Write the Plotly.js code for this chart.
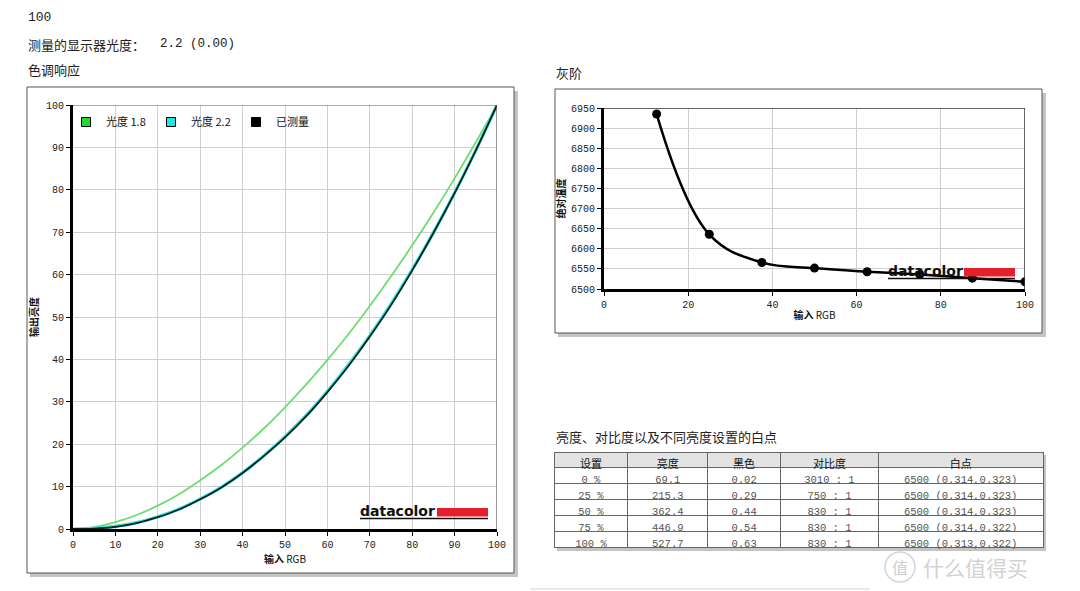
<!DOCTYPE html>
<html>
<head>
<meta charset="utf-8">
<script src="https://cdn.plot.ly/plotly-3.0.1.min.js"></script>
<style>html,body{margin:0;padding:0;background:#fff;}#chart{width:1080px;height:591px;}</style>
</head>
<body>
<div id="chart"></div>
<script>
// ---- data: tone response (色调响应) ----
const toneX = [0,5,10,15,20,25,30,35,40,45,50,55,60,65,70,75,80,85,90,95,100];
const gamma18 = [0,0.45,1.6,3.3,5.5,8.2,11.5,15.1,19.2,23.7,28.7,34.1,39.9,46.0,52.6,59.6,66.9,74.6,82.7,91.2,100];
const gamma22 = [0,0.14,0.6,1.5,2.9,4.7,7.1,9.9,13.3,17.3,21.8,26.8,32.5,38.8,45.6,53.1,61.2,69.9,79.3,89.3,100];
const measured = [0,0.1,0.5,1.4,2.8,4.6,7.0,9.8,13.2,17.2,21.6,26.6,32.3,38.5,45.4,52.8,61.0,69.8,79.2,89.3,100];
const seriesNames = ['光度 1.8','光度 2.2','已测量'];

// ---- data: grey scale (灰阶) ----
const greyX = [12.5,25,37.5,50,62.5,75,87.5,100];
const greyCCT = [6935,6636,6566,6552,6543,6536,6527,6518];

// ---- tick labels ----
const toneTicks = [0,10,20,30,40,50,60,70,80,90,100];
const greyXTicks = [0,20,40,60,80,100];
const greyYTicks = [6500,6550,6600,6650,6700,6750,6800,6850,6900,6950];

// ---- data: table ----
const tableHeader = ['设置','亮度','黑色','对比度','白点'];
const colSetting = ['0 %','25 %','50 %','75 %','100 %'];
const colLuminance = ['69.1','215.3','362.4','446.9','527.7'];
const colBlack = ['0.02','0.29','0.44','0.54','0.63'];
const colContrast = ['3010 : 1','750 : 1','830 : 1','830 : 1','830 : 1'];
const colWhitePoint = ['6500 (0.314,0.323)','6500 (0.314,0.323)','6500 (0.314,0.323)','6500 (0.314,0.322)','6500 (0.313,0.322)'];

// ---- texts ----
const headNumber = '100';
const gammaLabel = '测量的显示器光度：';
const gammaValue = '2.2 (0.00)';
const toneTitle = '色调响应';
const greyTitle = '灰阶';
const tableTitle = '亮度、对比度以及不同亮度设置的白点';

// ---- helpers (pixel -> paper) ----
const W = 1080, H = 591;
const px = v => v / W;
const py = v => 1 - v / H;

const CJK = '"Noto Sans CJK SC", "Noto Sans", sans-serif';
const MONO = '"Liberation Mono", "DejaVu Sans Mono", monospace';
const legendColors = ['#22dd22','#22e6e6','#000000'];

const traces = [
  {x: toneX, y: gamma18, type:'scatter', mode:'lines', line:{color:'#6fdc6f', width:1.8, shape:'spline'}, showlegend:false, xaxis:'x', yaxis:'y', hoverinfo:'skip'},
  {x: toneX, y: gamma22, type:'scatter', mode:'lines', line:{color:'#33e3e3', width:3.2, shape:'spline'}, showlegend:false, xaxis:'x', yaxis:'y', hoverinfo:'skip'},
  {x: toneX, y: measured, type:'scatter', mode:'lines', line:{color:'#0a1f1c', width:1.8, shape:'spline'}, showlegend:false, xaxis:'x', yaxis:'y', hoverinfo:'skip'},
  // legend entries (square swatches)
  ...seriesNames.map((n,i) => ({x:[null], y:[null], type:'scatter', mode:'markers', name:n,
     marker:{symbol:'square', size:9, color:legendColors[i], line:{color:'#000', width:1}}, xaxis:'x', yaxis:'y', showlegend:true})),
  // grey scale
  {x: greyX, y: greyCCT, type:'scatter', mode:'lines+markers', line:{color:'#000', width:2.5, shape:'spline', smoothing:1.1},
   marker:{color:'#000', size:9}, showlegend:false, xaxis:'x2', yaxis:'y2'},
  // table
  {type:'table', domain:{x:[px(554), px(1043)], y:[py(549), py(452)]},
   columnwidth:[74,80,73,98,165],
   header:{values: tableHeader, height:15, align:'center',
     fill:{color:'#e3e3e3'}, line:{color:'#666', width:1},
     font:{family:CJK, size:11, color:'#111'}},
   cells:{values:[colSetting, colLuminance, colBlack, colContrast, colWhitePoint], height:16, align:'center',
     fill:{color:'#ffffff'}, line:{color:'#666', width:1},
     font:{family:MONO, size:10.5, color:'#555'}}}
];

const tickFont = {family: MONO, size:10, color:'#222'};
const axisCommon = {showgrid:true, gridcolor:'#cfcfcf', gridwidth:1, showline:true, linecolor:'#000', linewidth:3,
  ticks:'outside', ticklen:4, tickwidth:1, tickcolor:'#000', zeroline:false, tickfont:tickFont, fixedrange:true};

const shapes = [
  // left frame (shadow + box)
  {type:'rect', xref:'paper', yref:'paper', x0:px(30), x1:px(518), y0:py(577), y1:py(91), fillcolor:'#c4c4c4', line:{width:0}, layer:'below'},
  {type:'rect', xref:'paper', yref:'paper', x0:px(27), x1:px(514), y0:py(573), y1:py(87), fillcolor:'#fff', line:{color:'#555', width:1}, layer:'below'},
  // right frame
  {type:'rect', xref:'paper', yref:'paper', x0:px(558), x1:px(1046), y0:py(337), y1:py(93), fillcolor:'#c4c4c4', line:{width:0}, layer:'below'},
  {type:'rect', xref:'paper', yref:'paper', x0:px(555), x1:px(1042), y0:py(333), y1:py(89), fillcolor:'#fff', line:{color:'#555', width:1}, layer:'below'},
  // table shadow
  {type:'rect', xref:'paper', yref:'paper', x0:px(557), x1:px(1046), y0:py(551), y1:py(455), fillcolor:'#c4c4c4', line:{width:0}, layer:'below'},
  // thin top / right plot borders
  {type:'line', xref:'x', yref:'y', x0:0, x1:100, y0:100, y1:100, line:{color:'#555', width:1.2}},
  {type:'line', xref:'x', yref:'y', x0:100, x1:100, y0:0, y1:100, line:{color:'#555', width:1.2}},
  {type:'line', xref:'x2', yref:'y2', x0:0, x1:100, y0:6950, y1:6950, line:{color:'#333', width:1.5}},
  {type:'line', xref:'x2', yref:'y2', x0:100, x1:100, y0:6500, y1:6950, line:{color:'#333', width:1.5}},
  // datacolor logos
  {type:'rect', xref:'paper', yref:'paper', x0:px(437), x1:px(488), y0:py(516.5), y1:py(508), fillcolor:'#e3202b', line:{width:0}, layer:'above'},
  {type:'line', xref:'paper', yref:'paper', x0:px(360), x1:px(488), y0:py(518.5), y1:py(518.5), line:{color:'#111', width:1.5}, layer:'above'},
  {type:'rect', xref:'paper', yref:'paper', x0:px(964), x1:px(1015), y0:py(276.5), y1:py(268), fillcolor:'#e3202b', line:{width:0}, layer:'above'},
  {type:'line', xref:'paper', yref:'paper', x0:px(888), x1:px(1015), y0:py(278.5), y1:py(278.5), line:{color:'#111', width:1.5}, layer:'above'},
  // faint bottom line
  {type:'line', xref:'paper', yref:'paper', x0:px(530), x1:px(870), y0:py(589), y1:py(589), line:{color:'#e2e2e2', width:1.5}},
  // watermark circle
  {type:'circle', xref:'paper', yref:'paper', x0:px(885), x1:px(915), y0:py(582), y1:py(552), line:{color:'#d6d6d6', width:1.5}, fillcolor:'rgba(255,255,255,0)'}
];

const ann = (text, x, y, font, extra) => Object.assign({text, xref:'paper', yref:'paper', x:px(x), y:py(y),
  xanchor:'left', yanchor:'middle', showarrow:false, font}, extra || {});

const annotations = [
  ann(headNumber, 26, 18, {family:MONO, size:13, color:'#222'}),
  ann(gammaLabel, 26, 44, {family:CJK, size:13, color:'#222'}),
  ann(gammaValue, 158, 44, {family:MONO, size:12.5, color:'#222'}),
  ann(toneTitle, 26, 70, {family:CJK, size:13, color:'#222'}),
  ann(greyTitle, 554, 72, {family:CJK, size:13, color:'#222'}),
  ann(tableTitle, 554, 436, {family:CJK, size:13, color:'#222'}),
  ann('<b>datacolor</b>', 358, 511, {family:'"DejaVu Sans", sans-serif', size:14, color:'#111'}),
  ann('<b>datacolor</b>', 886, 271, {family:'"DejaVu Sans", sans-serif', size:14, color:'#111'}),
  ann('值', 890, 567, {family:CJK, size:16, color:'#cfcfcf'}),
  ann('什么值得买', 921, 567, {family:CJK, size:21, color:'#d2d2d2'})
];

const layout = {
  width: W, height: H,
  margin:{l:0, r:0, t:0, b:0},
  paper_bgcolor:'#fff', plot_bgcolor:'#fff',
  font:{family:CJK, color:'#222'},
  showlegend:true,
  legend:{orientation:'h', x:px(66), y:py(122), xanchor:'left', yanchor:'middle',
    bgcolor:'rgba(0,0,0,0)', font:{family:CJK, size:11, color:'#111'},
    entrywidth:40, entrywidthmode:'pixels', itemwidth:30, tracegroupgap:0},
  xaxis: Object.assign({}, axisCommon, {domain:[px(73), px(497)], range:[0,100], tickvals:toneTicks, anchor:'y',
    title:{text:'<b>输入</b> RGB', font:{family:CJK, size:10, color:'#111'}, standoff:2}}),
  yaxis: Object.assign({}, axisCommon, {domain:[py(529), py(105)], range:[0,100], tickvals:toneTicks, anchor:'x',
    title:{text:'<b>输出亮度</b>', font:{family:CJK, size:10, color:'#111'}, standoff:6}}),
  xaxis2: Object.assign({}, axisCommon, {domain:[px(604), px(1025)], range:[0,100], tickvals:greyXTicks, anchor:'y2',
    title:{text:'<b>输入</b> RGB', font:{family:CJK, size:10, color:'#111'}, standoff:2}}),
  yaxis2: Object.assign({}, axisCommon, {domain:[py(289), py(108)], range:[6500,6950], tickvals:greyYTicks, anchor:'x2',
    title:{text:'<b>绝对温度</b>', font:{family:CJK, size:10, color:'#111'}, standoff:4}}),
  shapes, annotations
};

Plotly.newPlot('chart', traces, layout, {displayModeBar:false, staticPlot:true});
</script>
</body>
</html>
